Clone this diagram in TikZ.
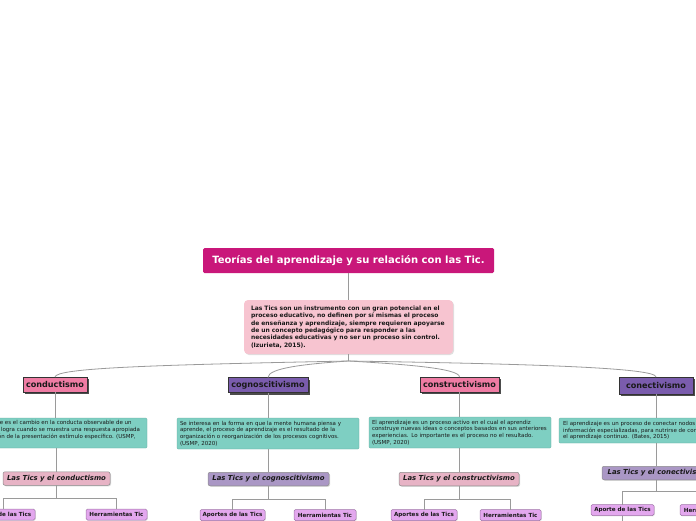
\documentclass[tikz,border=0pt]{standalone}
\usepackage{fontspec}
\setmainfont{DejaVu Sans}
\usetikzlibrary{shadows}
\definecolor{titulo}{HTML}{C9177A}
\definecolor{introc}{HTML}{F7C4D0}
\definecolor{rosa}{HTML}{EF7CA4}
\definecolor{lila}{HTML}{7A5CAD}
\definecolor{verde}{HTML}{7ECFC2}
\definecolor{rosaclaro}{HTML}{E7B3C5}
\definecolor{lilaclaro}{HTML}{AA97C5}
\definecolor{hoja}{HTML}{E3A7EE}
\definecolor{linea}{HTML}{9A9A9A}
\begin{document}
\begin{tikzpicture}[x=1pt,y=-1pt,
  every node/.style={inner sep=0pt,outer sep=0pt,text=black!90},
  tema/.style={fill=titulo,rounded corners=1.5pt,minimum width=291pt,minimum height=25pt,text=white,font=\fontsize{10}{12}\selectfont\bfseries},
  intro/.style={fill=introc,rounded corners=4pt,minimum width=209pt,minimum height=54pt,text width=195pt,align=left,font=\fontsize{6}{7.4}\selectfont\bfseries,drop shadow={shadow xshift=1pt,shadow yshift=-1pt,fill=black!25}},
  rama/.style={draw=black!80,line width=.6pt,minimum height=15pt,font=\fontsize{8.1}{9}\selectfont\bfseries,drop shadow={shadow xshift=2pt,shadow yshift=-2pt,fill=black!70,opacity=1}},
  texto/.style={fill=verde,draw=verde!80!black,line width=.3pt,rounded corners=1pt,align=left,font=\fontsize{5.5}{6.6}\selectfont},
  tics/.style={draw=black!45,line width=.5pt,rounded corners=2pt,minimum height=13.5pt,font=\fontsize{6.9}{8}\selectfont\bfseries\itshape,drop shadow={shadow xshift=1pt,shadow yshift=-1pt,fill=black!30}},
  hojab/.style={fill=hoja,draw=hoja!70!black,line width=.5pt,rounded corners=1.5pt,minimum height=11pt,font=\fontsize{5.6}{6}\selectfont\bfseries,drop shadow={shadow xshift=.8pt,shadow yshift=-.8pt,fill=black!20}},
  conector/.style={draw=linea,line width=.8pt}]
  \useasboundingbox (0,0) rectangle (696,520);
  \clip (0,0) rectangle (696,520);
  \node[tema] (tema) at (348.5,260.5) {Teorías del aprendizaje y su relación con las Tic.};
  \node[intro] (intro) at (348.5,327) {Las Tics son un instrumento con un gran potencial en el\\proceso educativo, no definen por sí mismas el proceso\\de enseñanza y aprendizaje, siempre requieren apoyarse\\de un concepto pedagógico para responder a las\\necesidades educativas y no ser un proceso sin control.\\(Izurieta, 2015).};
  \coordinate (hub) at (348.5,361);
  \node[rama,fill=rosa,minimum width=64pt] (b1) at (55,384.5) {conductismo};
  \node[rama,fill=lila,minimum width=80pt] (b2) at (268,385) {cognoscitivismo};
  \node[rama,fill=rosa,minimum width=79pt] (b3) at (459.5,384.5) {constructivismo};
  \node[rama,fill=lila,minimum width=74pt,minimum height=17pt] (b4) at (656,385.5) {conectivismo};
  \node[texto,minimum height=30pt,inner xsep=7pt,anchor=east] (t1) at (147,433) {El aprendizaje es el cambio en la conducta observable de un\\individuo, se logra cuando se muestra una respuesta apropiada\\a continuación de la presentación estímulo específico. (USMP,\\2020)};
  \node[texto,minimum height=31pt,text width=176pt,minimum width=182pt] (t2) at (268,433.5) {Se interesa en la forma en que la mente humana piensa y\\aprende, el proceso de aprendizaje es el resultado de la\\organización o reorganización de los procesos cognitivos.\\(USMP, 2020)};
  \node[texto,minimum height=31pt,text width=176pt,minimum width=182pt] (t3) at (460,432.5) {El aprendizaje es un proceso activo en el cual el aprendiz\\construye nuevas ideas o conceptos basados en sus anteriores\\experiencias. Lo importante es el proceso no el resultado.\\(USMP, 2020)};
  \node[texto,minimum height=25pt,anchor=west,text width=196pt,minimum width=204pt] (t4) at (559,430.5) {El aprendizaje es un proceso de conectar nodos o fuentes de\\información especializadas, para nutrirse de conocimiento y\\el aprendizaje continuo. (Bates, 2015)};
  \node[tics,fill=rosaclaro,minimum width=107pt] (l1) at (56.5,478.5) {Las Tics y el conductismo};
  \node[tics,fill=lilaclaro,minimum width=121pt] (l2) at (268.5,479) {Las Tics y el cognoscitivismo};
  \node[tics,fill=rosaclaro,minimum width=120pt] (l3) at (459,479) {Las Tics y el constructivismo};
  \node[tics,fill=lilaclaro,minimum width=112pt] (l4) at (658,473) {Las Tics y el conectivismo};
  \node[hojab,minimum width=64pt] (a1) at (3,514.5) {Aporte de las Tics};
  \node[hojab,minimum width=61pt] (h1) at (116.5,514.5) {Herramientas Tic};
  \node[hojab,minimum width=65pt] (a2) at (232.5,515) {Aportes de las Tics};
  \node[hojab,minimum width=62pt] (h2) at (325,515) {Herramientas Tic};
  \node[hojab,minimum width=66pt] (a3) at (424,515) {Aportes de las Tics};
  \node[hojab,minimum width=61pt] (h3) at (510.5,515) {Herramientas Tic};
  \node[hojab,minimum width=63pt] (a4) at (622.5,510) {Aporte de las Tics};
  \node[hojab,minimum width=62pt] (h4) at (711,510) {Herramientas Tic};
  \draw[conector] (tema.south) -- (intro.north);
  \draw[conector] (intro.south) -- (hub);
  \draw[conector] (hub) .. controls (150,365) and (56,368) .. (b1.north);
  \draw[conector] (hub) .. controls (305,364) and (268,368) .. (b2.north);
  \draw[conector] (hub) .. controls (400,364) and (459.5,368) .. (b3.north);
  \draw[conector] (hub) .. controls (540,364) and (656,368) .. (b4.north);
  \draw[conector] (b1.south) -- (t1.north -| b1.south);
  \draw[conector] (b2.south) -- (t2.north);
  \draw[conector] (b3.south) -- (t3.north -| b3.south);
  \draw[conector] (b4.south) -- (t4.north -| b4.south);
  \draw[conector] (t1.south -| l1.north) -- (l1.north);
  \draw[conector] (t2.south -| l2.north) -- (l2.north);
  \draw[conector] (t3.south -| l3.north) -- (l3.north);
  \draw[conector] (t4.south -| b4.south) -- (l4.north -| b4.south);
  \draw[conector] (l1.south) -- ++(0,13.5) -| (a1.north);
  \draw[conector] (l1.south) -- ++(0,13.5) -| (h1.north);
  \draw[conector] (l2.south) -- ++(0,13.5) -| (a2.north);
  \draw[conector] (l2.south) -- ++(0,13.5) -| (h2.north);
  \draw[conector] (l3.south) -- ++(0,13.5) -| (a3.north);
  \draw[conector] (l3.south) -- ++(0,13.5) -| (h3.north);
  \draw[conector] (l4.south -| b4.south) -- ++(0,12) -| (a4.north);
  \draw[conector] (l4.south -| b4.south) -- ++(0,12) -| (h4.north);
  \coordinate (sigue) at (622.5,522);
  \draw[conector] (a4.south) -- (sigue);
\end{tikzpicture}
\end{document}
